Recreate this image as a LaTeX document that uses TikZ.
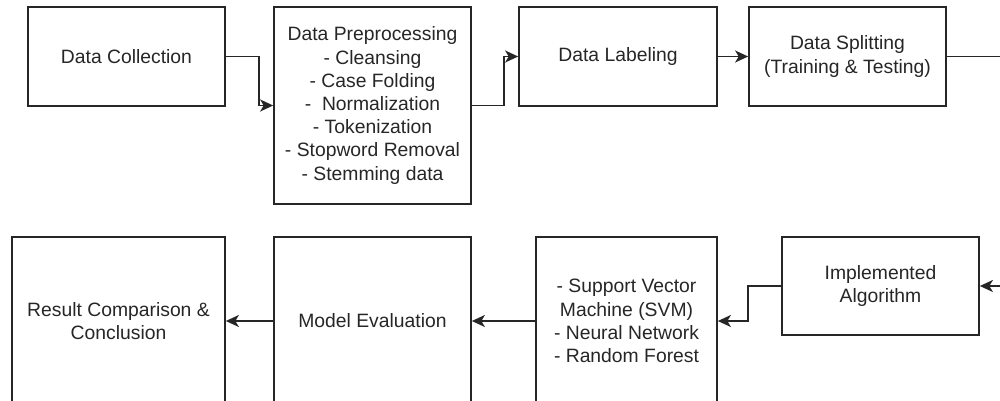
\documentclass[tikz,border=0pt]{standalone}
\usepackage{fontspec}
\setmainfont{Liberation Sans}
\usetikzlibrary{arrows.meta}
\begin{document}
\begin{tikzpicture}[x=0.02cm,y=-0.02cm,
  box/.style={draw=black!85, line width=1pt, rectangle, inner sep=0pt, align=center,
    font=\fontsize{11pt}{13.2pt}\selectfont, text=black!85},
  conn/.style={draw=black!85, line width=1pt},
  arr/.style={conn, -{Stealth[length=0.26cm,width=0.24cm,inset=0.07cm]}}]
\useasboundingbox (0,0) rectangle (1000,400);
\clip (0,0) rectangle (1000,400);
\node[box, minimum width=3.94cm, minimum height=1.98cm] (dc) at (126.5,56.5) {Data Collection};
\node[box, minimum width=3.94cm, minimum height=3.94cm] (pre) at (372.5,105.5) {Data Preprocessing\\- Cleansing\\- Case Folding\\-\ \ Normalization\\- Tokenization\\- Stopword Removal\\- Stemming data};
\node[box, minimum width=3.96cm, minimum height=1.98cm] (lab) at (618,56.5) {Data Labeling};
\node[box, minimum width=3.94cm, minimum height=1.98cm] (spl) at (847.5,56.5) {Data Splitting\\(Training \& Testing)};
\node[box, minimum width=4.26cm, minimum height=3.36cm] (res) at (118.5,321) {Result Comparison \&\\Conclusion};
\node[box, minimum width=3.94cm, minimum height=3.36cm] (eval) at (372.5,321) {Model Evaluation};
\node[box, minimum width=3.62cm, minimum height=3.36cm] (alg) at (626.5,321) {- Support Vector\\Machine (SVM)\\- Neural Network\\- Random Forest};
\node[box, minimum width=3.94cm, minimum height=1.96cm] (impl) at (880.5,286) {Implemented\\Algorithm};
\draw[arr] (dc.east) -- ++(33,0) |- (pre.west);
\draw[arr] (pre.east) -- ++(32,0) |- (lab.west);
\draw[arr] (lab.east) -- (spl.west);
\draw[arr] (spl.east) -- ++(80,0) |- (impl.east);
\draw[arr] (impl.west) -- ++(-33,0) |- (alg.east);
\draw[arr] (alg.west) -- (eval.east);
\draw[arr] (eval.west) -- (res.east);
\end{tikzpicture}
\end{document}
